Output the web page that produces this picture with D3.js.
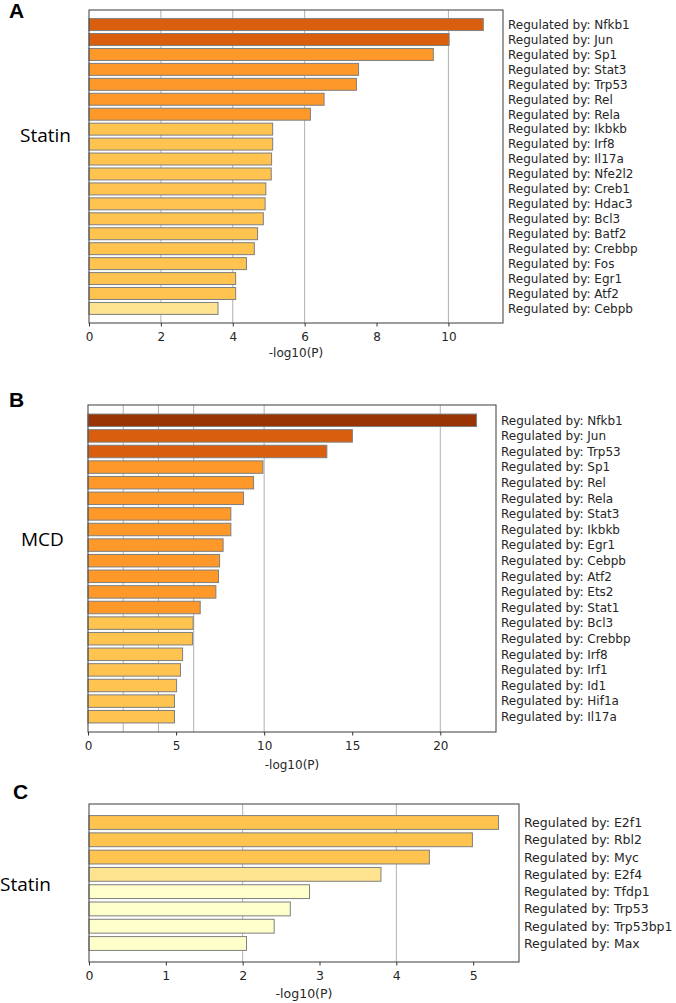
<!DOCTYPE html>
<html>
<head>
<meta charset="utf-8">
<script src="https://cdn.jsdelivr.net/npm/d3@7/dist/d3.min.js"></script>
<style>
  html, body { margin: 0; padding: 0; background: #fff; }
  svg { display: block; }
</style>
</head>
<body>
<svg id="chart" width="676" height="1003"></svg>
<script>
// ---------- DATA ----------
const catsA = ["Nfkb1","Jun","Sp1","Stat3","Trp53","Rel","Rela","Ikbkb","Irf8","Il17a",
               "Nfe2l2","Creb1","Hdac3","Bcl3","Batf2","Crebbp","Fos","Egr1","Atf2","Cebpb"];
const valsA = [10.97,10.02,9.58,7.50,7.44,6.54,6.16,5.11,5.11,5.08,
               5.07,4.92,4.90,4.85,4.69,4.60,4.38,4.08,4.08,3.59];
const ticksA = [0,2,4,6,8,10];

const catsB = ["Nfkb1","Jun","Trp53","Sp1","Rel","Rela","Stat3","Ikbkb","Egr1","Cebpb",
               "Atf2","Ets2","Stat1","Bcl3","Crebbp","Irf8","Irf1","Id1","Hif1a","Il17a"];
const valsB = [22.06,15.01,13.56,9.93,9.40,8.83,8.11,8.11,7.67,7.47,
               7.41,7.26,6.37,5.97,5.93,5.37,5.25,5.03,4.91,4.91];
const ticksB = [0,5,10,15,20];

const catsC = ["E2f1","Rbl2","Myc","E2f4","Tfdp1","Trp53","Trp53bp1","Max"];
const valsC = [5.33,4.99,4.43,3.80,2.87,2.62,2.41,2.05];
const ticksC = [0,1,2,3,4,5];

const gridLines = [2,4,6,10,20];
const colorBreaks = [3,4,6,10,20];
const colorRange = ["#ffffcc","#fee391","#fec44f","#fe9929","#d95f0e","#993404"];
const labelPrefix = "Regulated by: ";
const axisTitle = "-log10(P)";

// ---------- DRAW ----------
const svg = d3.select("#chart");
const color = d3.scaleThreshold().domain(colorBreaks).range(colorRange);

function panel(cfg) {
  const {cats, vals, ticks, x0, x1, y0, y1, pad, font, letter, letterPos, group, groupPos, titleOff} = cfg;
  const g = svg.append("g");
  const x = d3.scaleLinear().domain([0, d3.max(vals) * 1.05]).range([x0, x1]);
  const y = d3.scaleLinear().domain([-pad, cats.length - 1 + pad]).range([y0, y1]);
  const bh = y(0.4) - y(0);

  // grid
  g.selectAll("line.grid").data(gridLines.filter(v => v < x.domain()[1]))
    .join("line")
    .attr("x1", d => x(d)).attr("x2", d => x(d))
    .attr("y1", y0).attr("y2", y1)
    .attr("stroke", "#b0b0b0").attr("stroke-width", 1);

  // bars
  g.selectAll("rect.bar").data(vals)
    .join("rect")
    .attr("x", x(0))
    .attr("y", (d, i) => y(i) - bh)
    .attr("width", d => x(d) - x(0))
    .attr("height", 2 * bh)
    .attr("fill", d => color(d))
    .attr("stroke", "#7f7f7f").attr("stroke-width", 1);

  // frame
  g.append("rect")
    .attr("x", x0).attr("y", y0).attr("width", x1 - x0).attr("height", y1 - y0)
    .attr("fill", "none").attr("stroke", "#4d4d4d").attr("stroke-width", 1.1);

  // axis
  const ax = g.append("g").attr("transform", `translate(0,${y1})`)
    .call(d3.axisBottom(x).tickValues(ticks).tickFormat(d3.format("d")).tickSize(3.5).tickPadding(6));
  ax.select(".domain").remove();
  ax.selectAll(".tick line").attr("stroke", "#333");
  ax.selectAll(".tick text").attr("fill", "#262626")
    .style("font-family", "DejaVu Sans").style("font-size", font + "px");

  g.append("text")
    .attr("x", (x0 + x1) / 2).attr("y", y1 + titleOff)
    .attr("text-anchor", "middle")
    .attr("fill", "#262626")
    .style("font-family", "DejaVu Sans").style("font-size", font + "px")
    .text(axisTitle);

  // category labels
  g.selectAll("text.lab").data(cats)
    .join("text")
    .attr("x", x1 + 5)
    .attr("y", (d, i) => y(i))
    .attr("dy", "0.36em")
    .attr("fill", "#262626")
    .style("font-family", "DejaVu Sans").style("font-size", font + "px")
    .text(d => labelPrefix + d);

  // panel letter
  g.append("text")
    .attr("x", letterPos[0]).attr("y", letterPos[1])
    .attr("fill", "#000")
    .style("font-family", "Liberation Sans").style("font-weight", "bold").style("font-size", "21px")
    .text(letter);

  // group label
  g.append("text")
    .attr("x", groupPos[0]).attr("y", groupPos[1])
    .attr("fill", "#000")
    .style("font-family", "Open Sans").style("font-size", "19px")
    .text(group);
}

panel({cats: catsA, vals: valsA, ticks: ticksA, x0: 89, x1: 503, y0: 10, y1: 323, pad: 0.975,
       font: 12, letter: "A", letterPos: [9, 18], group: "Statin", groupPos: [20, 141.5], titleOff: 34});
panel({cats: catsB, vals: valsB, ticks: ticksB, x0: 88, x1: 496, y0: 405, y1: 732, pad: 0.98,
       font: 12, letter: "B", letterPos: [9, 407], group: "MCD", groupPos: [21, 546], titleOff: 37});
panel({cats: catsC, vals: valsC, ticks: ticksC, x0: 89, x1: 519, y0: 804, y1: 962, pad: 1.07,
       font: 12.5, letter: "C", letterPos: [13, 799], group: "Statin", groupPos: [0, 890.5], titleOff: 36});
</script>
</body>
</html>
